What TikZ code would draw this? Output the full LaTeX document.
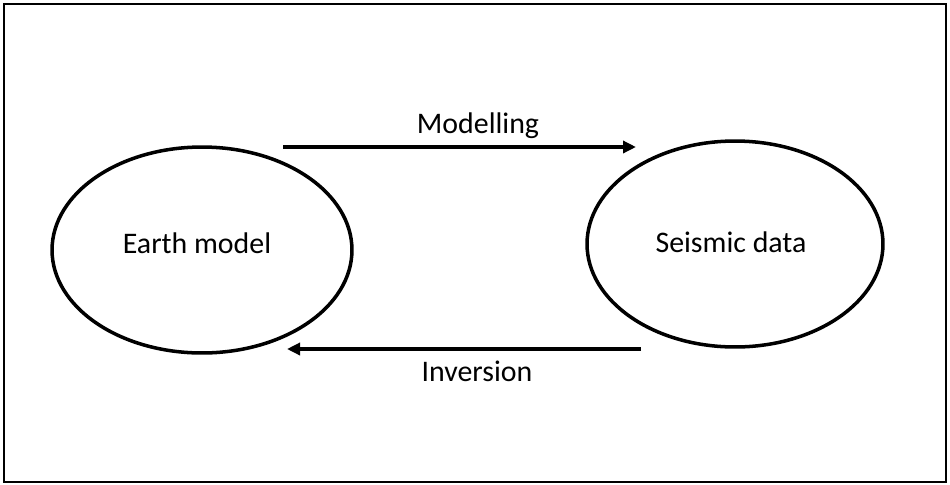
\documentclass[tikz,border=0pt]{standalone}
\usepackage{fontspec}
\setmainfont{Carlito}
\usetikzlibrary{arrows.meta,shapes.geometric}

\tikzset{
    flow/.style={draw,line width=2pt,-{Triangle[length=0.26cm,width=0.24cm]}},
    label/.style={font=\fontsize{17}{20}\selectfont}
}

\begin{document}
\begin{tikzpicture}[x=0.02cm,y=-0.02cm]
            \useasboundingbox (0,0) rectangle (950,484);
            \draw [line width=1.5pt] (4,4) rectangle (946,482);

            \begin{scope}[every node/.style={ellipse,line width=2pt,draw}]
                \node [minimum width=6cm,minimum height=4.12cm] (earth) at (202,250) {};
                \node [minimum width=5.92cm,minimum height=4.12cm] (seismic) at (735,244) {};
            \end{scope}
            \node [label] (earthtext) at (197,243) {Earth model};
            \node [label] (seismictext) at (731,242) {Seismic data};

            \coordinate (m1) at (283,147);
            \coordinate (m2) at (636,147);
            \coordinate (i1) at (641,349);
            \coordinate (i2) at (287,349);

            \path
                (m1) edge [flow] (m2)
                (i1) edge [flow] (i2);

            \node [label] (modelling) at (478,126) {Modelling};
            \node [label] (inversion) at (477,371) {Inversion};
        \end{tikzpicture}
\end{document}
